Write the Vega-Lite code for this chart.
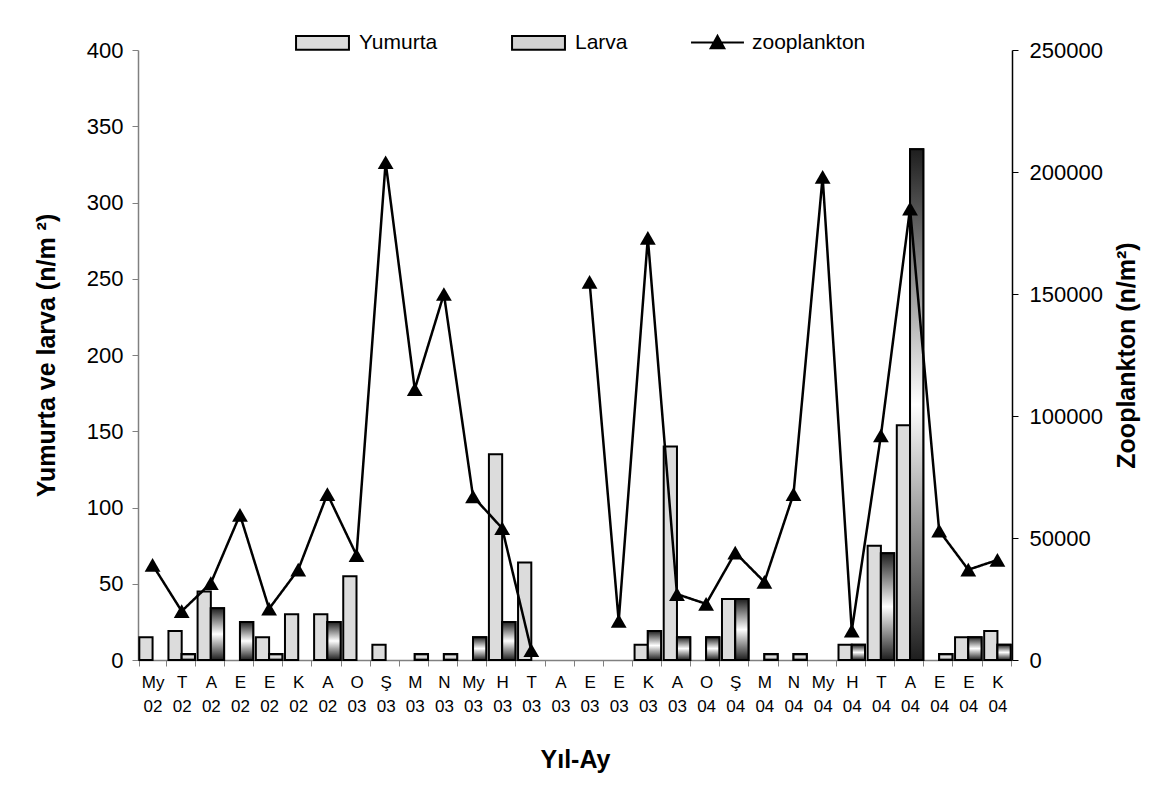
{
  "$schema": "https://vega.github.io/schema/vega-lite/v6.json",
  "width": 874,
  "height": 610,
  "autosize": {"type": "none"},
  "padding": {"left": 138, "top": 50, "right": 158, "bottom": 143},
  "background": "white",
  "config": {
    "font": "Liberation Sans",
    "view": {"stroke": null},
    "axis": {"grid": false, "labelFont": "Liberation Sans", "titleFont": "Liberation Sans", "labelColor": "black", "titleColor": "black"}
  },
  "data": {"values": [
    {"k": "00|My|02", "Yumurta": 15, "Larva": 0, "zoo": 39000},
    {"k": "01|T|02", "Yumurta": 19, "Larva": 4, "zoo": 20000},
    {"k": "02|A|02", "Yumurta": 45, "Larva": 34, "zoo": 31500},
    {"k": "03|E|02", "Yumurta": 0, "Larva": 25, "zoo": 59500},
    {"k": "04|E|02", "Yumurta": 15, "Larva": 4, "zoo": 21000},
    {"k": "05|K|02", "Yumurta": 30, "Larva": 0, "zoo": 37000},
    {"k": "06|A|02", "Yumurta": 30, "Larva": 25, "zoo": 68000},
    {"k": "07|O|03", "Yumurta": 55, "Larva": 0, "zoo": 43000},
    {"k": "08|Ş|03", "Yumurta": 10, "Larva": 0, "zoo": 204000},
    {"k": "09|M|03", "Yumurta": 0, "Larva": 4, "zoo": 111000},
    {"k": "10|N|03", "Yumurta": 0, "Larva": 4, "zoo": 150000},
    {"k": "11|My|03", "Yumurta": 0, "Larva": 15, "zoo": 67000},
    {"k": "12|H|03", "Yumurta": 135, "Larva": 25, "zoo": 54000},
    {"k": "13|T|03", "Yumurta": 64, "Larva": 0, "zoo": 4000},
    {"k": "14|A|03", "Yumurta": 0, "Larva": 0, "zoo": null},
    {"k": "15|E|03", "Yumurta": 0, "Larva": 0, "zoo": 155000},
    {"k": "16|E|03", "Yumurta": 0, "Larva": 0, "zoo": 16000},
    {"k": "17|K|03", "Yumurta": 10, "Larva": 19, "zoo": 173000},
    {"k": "18|A|03", "Yumurta": 140, "Larva": 15, "zoo": 27000},
    {"k": "19|O|04", "Yumurta": 0, "Larva": 15, "zoo": 23000},
    {"k": "20|Ş|04", "Yumurta": 40, "Larva": 40, "zoo": 44000},
    {"k": "21|M|04", "Yumurta": 0, "Larva": 4, "zoo": 32000},
    {"k": "22|N|04", "Yumurta": 0, "Larva": 4, "zoo": 68000},
    {"k": "23|My|04", "Yumurta": 0, "Larva": 0, "zoo": 198000},
    {"k": "24|H|04", "Yumurta": 10, "Larva": 10, "zoo": 12000},
    {"k": "25|T|04", "Yumurta": 75, "Larva": 70, "zoo": 92000},
    {"k": "26|A|04", "Yumurta": 154, "Larva": 335, "zoo": 185000},
    {"k": "27|E|04", "Yumurta": 0, "Larva": 4, "zoo": 53000},
    {"k": "28|E|04", "Yumurta": 15, "Larva": 15, "zoo": 37000},
    {"k": "29|K|04", "Yumurta": 19, "Larva": 10, "zoo": 41000}
  ]},
  "layer": [
    {
      "transform": [
        {"fold": ["Yumurta", "Larva"], "as": ["seri", "deger"]},
        {"filter": "datum.deger > 0"}
      ],
      "layer": [
        {
          "mark": {"type": "bar", "stroke": "black", "strokeWidth": 2},
          "encoding": {
            "x": {
              "field": "k", "type": "nominal",
              "scale": {"paddingInner": 0.09, "paddingOuter": 0.045},
              "axis": {
                "title": "Yıl-Ay", "titleFontSize": 25, "titleFontWeight": "bold", "titlePadding": 33,
                "labelExpr": "slice(split(datum.value, '|'), 1)",
                "labelFontSize": 17, "labelLineHeight": 24, "labelAngle": 0, "labelPadding": 8,
                "tickBand": "extent", "tickSize": 6, "domainColor": "#808080", "tickColor": "#808080", "domainWidth": 1.5
              }
            },
            "xOffset": {"field": "seri", "type": "nominal", "scale": {"domain": ["Yumurta", "Larva"], "paddingInner": 0, "paddingOuter": 0}},
            "y": {
              "field": "deger", "type": "quantitative",
              "scale": {"domain": [0, 400], "nice": false},
              "axis": {
                "title": "Yumurta ve larva (n/m ²)", "titleFontSize": 25, "titleFontWeight": "bold", "titlePadding": 27,
                "values": [0, 50, 100, 150, 200, 250, 300, 350, 400],
                "labelFontSize": 22, "labelPadding": 9, "tickSize": 6,
                "domainColor": "#808080", "tickColor": "#808080", "domainWidth": 1.5, "labelFlush": false
              }
            },
            "color": {
              "field": "seri", "type": "nominal",
              "scale": {"domain": ["Yumurta", "Larva"], "range": ["#dcdcdc", "#d2d2d2"]},
              "legend": {
                "orient": "none", "legendX": 157, "legendY": -35, "direction": "horizontal", "title": null,
                "labelFontSize": 21, "labelFont": "Liberation Sans", "labelColor": "black",
                "symbolSize": 2800, "labelOffset": 9, "columnPadding": 70,
                "symbolType": "M-1,-0.26H1V0.26H-1Z",
                "symbolStrokeColor": "black", "symbolStrokeWidth": 2, "symbolOpacity": 1
              }
            }
          }
        },
        {
          "transform": [{"filter": "datum.seri === 'Larva'"}],
          "mark": {
            "type": "bar", "stroke": "black", "strokeWidth": 2,
            "fill": {"gradient": "linear", "x1": 0, "y1": 0, "x2": 0, "y2": 1,
              "stops": [{"offset": 0, "color": "#1e1e1e"}, {"offset": 0.5, "color": "#ffffff"}, {"offset": 1, "color": "#1e1e1e"}]}
          },
          "encoding": {
            "x": {"field": "k", "type": "nominal"},
            "xOffset": {"field": "seri", "type": "nominal", "scale": {"domain": ["Yumurta", "Larva"], "paddingInner": 0, "paddingOuter": 0}},
            "y": {"field": "deger", "type": "quantitative"}
          }
        }
      ]
    },
    {
      "layer": [
        {
          "mark": {"type": "line", "color": "black", "strokeWidth": 2.5, "invalid": "break-paths-show-domains"},
          "encoding": {
            "x": {"field": "k", "type": "nominal"},
            "y": {
              "field": "zoo", "type": "quantitative",
              "scale": {"domain": [0, 250000], "nice": false},
              "axis": {
                "orient": "right", "title": "Zooplankton (n/m²)", "titleFontSize": 25, "titleFontWeight": "bold",
                "titleAngle": -90, "titleBaseline": "top", "titlePadding": 12,
                "values": [0, 50000, 100000, 150000, 200000, 250000], "format": "d",
                "labelFontSize": 22, "labelPadding": 11, "tickSize": 6,
                "domainColor": "black", "tickColor": "black", "domainWidth": 1.5, "labelFlush": false
              }
            },
            "strokeDash": {
              "datum": "zooplankton",
              "scale": {"domain": ["zooplankton"], "range": [[1, 0]]},
              "legend": {
                "orient": "none", "legendX": 552, "legendY": -35, "direction": "horizontal", "title": null,
                "labelFontSize": 21, "labelFont": "Liberation Sans", "labelColor": "black",
                "symbolSize": 2800, "labelOffset": 7,
                "symbolType": "M-1,0H1M-0.26,0.22L0,-0.25L0.26,0.22Z",
                "symbolFillColor": "black", "symbolStrokeColor": "black", "symbolStrokeWidth": 2, "symbolOpacity": 1
              }
            }
          }
        },
        {
          "mark": {"type": "point", "shape": "triangle-up", "filled": true, "color": "black", "size": 250, "opacity": 1},
          "encoding": {
            "x": {"field": "k", "type": "nominal"},
            "y": {"field": "zoo", "type": "quantitative"}
          }
        }
      ]
    }
  ],
  "resolve": {"scale": {"y": "independent"}}
}
